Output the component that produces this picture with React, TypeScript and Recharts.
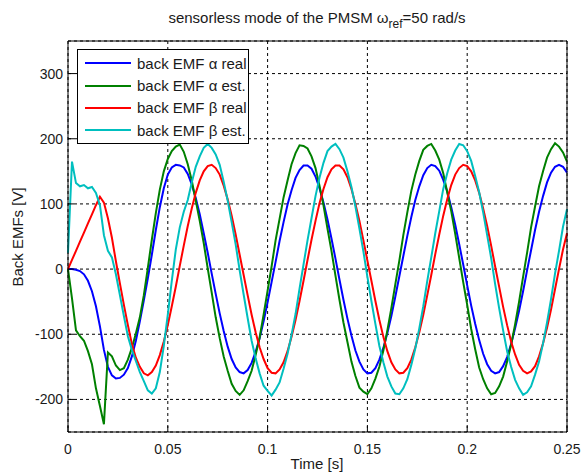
import { LineChart, Line, XAxis, YAxis, CartesianGrid, Legend } from "recharts";

// sample times [s]
const TIME = [
  0, 0.002, 0.004, 0.006, 0.008, 0.01, 0.012, 0.014, 0.016, 0.018,
  0.02, 0.022, 0.024, 0.026, 0.028, 0.03, 0.032, 0.034, 0.036, 0.038,
  0.04, 0.042, 0.044, 0.046, 0.048, 0.05, 0.052, 0.054, 0.056, 0.058,
  0.06, 0.062, 0.064, 0.066, 0.068, 0.07, 0.072, 0.074, 0.076, 0.078,
  0.08, 0.082, 0.084, 0.086, 0.088, 0.09, 0.092, 0.094, 0.096, 0.098,
  0.1, 0.102, 0.104, 0.106, 0.108, 0.11, 0.112, 0.114, 0.116, 0.118,
  0.12, 0.122, 0.124, 0.126, 0.128, 0.13, 0.132, 0.134, 0.136, 0.138,
  0.14, 0.142, 0.144, 0.146, 0.148, 0.15, 0.152, 0.154, 0.156, 0.158,
  0.16, 0.162, 0.164, 0.166, 0.168, 0.17, 0.172, 0.174, 0.176, 0.178,
  0.18, 0.182, 0.184, 0.186, 0.188, 0.19, 0.192, 0.194, 0.196, 0.198,
  0.2, 0.202, 0.204, 0.206, 0.208, 0.21, 0.212, 0.214, 0.216, 0.218,
  0.22, 0.222, 0.224, 0.226, 0.228, 0.23, 0.232, 0.234, 0.236, 0.238,
  0.24, 0.242, 0.244, 0.246, 0.248, 0.25,
];

// back EMF alpha, real
const ALPHA_REAL = [
  0, 0, -1, -3, -8, -18, -34, -57, -88, -124,
  -150, -163, -168, -167, -162, -152, -134, -110, -80, -48,
  -14, 22, 60, 95, 124, 145, 156, 160, 159, 156,
  146, 130, 109, 84, 55, 25, -7, -38, -68, -95,
  -119, -138, -151, -158, -160, -155, -144, -127, -106, -80,
  -51, -20, 11, 43, 72, 99, 121, 140, 152, 159,
  159, 154, 142, 124, 102, 76, 47, 16, -16, -47,
  -76, -102, -125, -142, -154, -160, -159, -152, -139, -121,
  -98, -72, -42, -11, 20, 51, 80, 106, 127, 144,
  155, 160, 158, 151, 137, 119, 95, 68, 38, 7,
  -25, -56, -84, -109, -130, -146, -156, -160, -158, -149,
  -135, -115, -91, -64, -34, -2, 29, 60, 88, 112,
  133, 148, 157, 160, 157, 148,
];

// back EMF alpha, estimated
const ALPHA_EST = [
  0, -45, -94, -103, -110, -126, -146, -183, -210, -238,
  -128, -134, -148, -155, -152, -139, -121, -99, -74, -40,
  2, 45, 86, 122, 150, 169, 181, 188, 191, 180,
  161, 136, 105, 74, 40, 1, -36, -74, -106, -134,
  -156, -176, -187, -193, -186, -172, -156, -132, -105, -70,
  -33, 4, 44, 77, 110, 136, 161, 178, 190, 189,
  185, 173, 155, 128, 98, 62, 28, -10, -47, -82,
  -112, -142, -164, -182, -188, -192, -183, -168, -150, -125,
  -94, -60, -23, 13, 52, 87, 120, 145, 166, 183,
  189, 192, 182, 168, 147, 118, 89, 54, 17, -20,
  -55, -92, -123, -151, -169, -183, -192, -190, -180, -165,
  -142, -116, -85, -50, -12, 25, 64, 96, 127, 150,
  171, 184, 193, 188, 179, 165,
];

// back EMF beta, real
const BETA_REAL = [
  0, 14, 28, 42, 56, 70, 84, 98, 111, 102,
  78, 48, 12, -22, -55, -86, -115, -136, -150, -160,
  -163, -158, -148, -132, -111, -86, -57, -27, 5, 36,
  66, 93, 117, 136, 150, 158, 160, 155, 145, 128,
  107, 82, 53, 22, -9, -40, -70, -97, -120, -138,
  -152, -159, -160, -154, -143, -126, -104, -78, -49, -18,
  14, 45, 74, 101, 123, 141, 153, 159, 159, 153,
  141, 123, 100, 74, 44, 13, -18, -49, -78, -104,
  -126, -143, -154, -160, -159, -152, -139, -120, -97, -70,
  -40, -9, 23, 53, 82, 107, 129, 145, 155, 160,
  158, 150, 136, 117, 93, 66, 36, 4, -27, -58,
  -86, -111, -131, -147, -156, -160, -157, -149, -134, -114,
  -90, -62, -31, 0, 30, 55,
];

// back EMF beta, estimated
const BETA_EST = [
  25, 165, 132, 127, 129, 124, 126, 117, 98, 52,
  28, 18, -8, -40, -72, -103, -124, -141, -158, -172,
  -186, -191, -183, -158, -118, -70, -18, 30, 64, 88,
  106, 133, 157, 173, 186, 192, 186, 176, 160, 134,
  105, 72, 38, -2, -39, -75, -110, -137, -160, -179,
  -187, -194, -185, -174, -153, -130, -101, -69, -30, 7,
  44, 78, 112, 140, 163, 181, 188, 192, 184, 171,
  150, 126, 96, 62, 27, -12, -49, -84, -118, -143,
  -165, -180, -191, -192, -183, -169, -147, -122, -91, -57,
  -18, 18, 55, 89, 123, 147, 168, 182, 192, 190,
  181, 166, 143, 118, 87, 52, 17, -23, -60, -94,
  -126, -150, -170, -183, -193, -189, -180, -162, -142, -114,
  -82, -46, -7, 28, 65, 92,
];

const X_TICKS = [0, 0.05, 0.1, 0.15, 0.2, 0.25];
const Y_TICKS = [-200, -100, 0, 100, 200, 300];

const SERIES = [
  { key: "alphaReal", name: "back EMF α real", color: "#0000ff" },
  { key: "alphaEst", name: "back EMF α est.", color: "#008000" },
  { key: "betaReal", name: "back EMF β real", color: "#ff0000" },
  { key: "betaEst", name: "back EMF β est.", color: "#00bfbf" },
];

const data = TIME.map((t, i) => ({
  t,
  alphaReal: ALPHA_REAL[i],
  alphaEst: ALPHA_EST[i],
  betaReal: BETA_REAL[i],
  betaEst: BETA_EST[i],
}));

const FONT = "'Liberation Sans', Arial, sans-serif";
const TICK = { fontSize: 14, fill: "#1a1a1a", fontFamily: FONT };

function LegendBox() {
  return (
    <div
      style={{
        boxSizing: "border-box",
        width: 172,
        height: 95,
        border: "1px solid #000",
        background: "#fff",
        paddingTop: 2,
        paddingLeft: 7,
        fontFamily: FONT,
        fontSize: 15,
        color: "#1a1a1a",
      }}
    >
      {SERIES.map((s) => (
        <div key={s.key} style={{ display: "flex", alignItems: "center", height: 22.4 }}>
          <svg width={46} height={4} style={{ marginRight: 6 }}>
            <line x1={0} y1={2} x2={46} y2={2} stroke={s.color} strokeWidth={2} />
          </svg>
          <span style={{ whiteSpace: "nowrap" }}>{s.name}</span>
        </div>
      ))}
    </div>
  );
}

export default function App() {
  return (
    <div style={{ position: "absolute", left: 0, top: 0, width: 583, height: 474, background: "#fff" }}>
      <LineChart width={583} height={474} data={data} margin={{ top: 40, right: 15, bottom: 12, left: 8 }}>
        <CartesianGrid stroke="#000" strokeDasharray="3 3" strokeWidth={1} />
        <XAxis
          dataKey="t"
          type="number"
          domain={[0, 0.25]}
          ticks={X_TICKS}
          interval={0}
          height={30}
          tick={TICK}
          tickSize={-6}
          tickMargin={18}
          stroke="#000"
        />
        <XAxis
          xAxisId="top"
          orientation="top"
          type="number"
          domain={[0, 0.25]}
          ticks={X_TICKS}
          interval={0}
          height={1}
          tick={false}
          tickSize={-6}
          stroke="#000"
        />
        <YAxis
          type="number"
          domain={[-250, 350]}
          ticks={Y_TICKS}
          interval={0}
          width={60}
          tick={TICK}
          tickSize={-6}
          tickMargin={11}
          stroke="#000"
        />
        <YAxis
          yAxisId="right"
          orientation="right"
          type="number"
          domain={[-250, 350]}
          ticks={Y_TICKS}
          interval={0}
          width={1}
          tick={false}
          tickSize={-6}
          stroke="#000"
        />
        <Legend
          layout="vertical"
          align="center"
          verticalAlign="middle"
          wrapperStyle={{ left: 77, top: 49, width: 172, height: 95 }}
          content={() => <LegendBox />}
        />
        {SERIES.map((s) => (
          <Line
            key={s.key}
            type="linear"
            dataKey={s.key}
            name={s.name}
            stroke={s.color}
            strokeWidth={2}
            dot={false}
            activeDot={false}
            isAnimationActive={false}
          />
        ))}
        <text x={317} y={23} textAnchor="middle" fontFamily={FONT} fontSize={15} fill="#1a1a1a">
          sensorless mode of the PMSM ω
          <tspan dy={5} fontSize={12}>ref</tspan>
          <tspan dy={-5}>=50 rad/s</tspan>
        </text>
        <text x={317} y={469} textAnchor="middle" fontFamily={FONT} fontSize={15} fill="#1a1a1a">
          Time [s]
        </text>
        <text
          x={23}
          y={237}
          textAnchor="middle"
          fontFamily={FONT}
          fontSize={15}
          fill="#1a1a1a"
          transform="rotate(-90 23 237)"
        >
          Back EMFs [V]
        </text>
      </LineChart>
    </div>
  );
}
